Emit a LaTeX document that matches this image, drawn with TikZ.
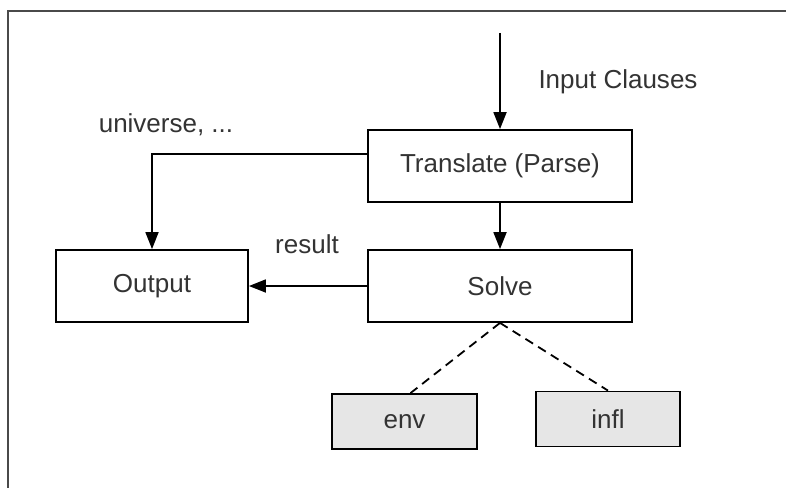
\documentclass[tikz,border=0pt]{standalone}
\usepackage{fontspec}
\setmainfont{Liberation Sans}
\usetikzlibrary{arrows.meta}
\definecolor{txt}{HTML}{333333}
\definecolor{boxfill}{HTML}{E6E6E6}
\definecolor{framec}{HTML}{4A4A4A}
\tikzset{
  blk/.style={draw=black, line width=1.8pt, fill=white, inner sep=0pt, text=txt,
     font=\fontsize{26}{30}\selectfont},
  grayblk/.style={blk, fill=boxfill},
  lbl/.style={text=txt, inner sep=0pt, font=\fontsize{26}{30}\selectfont},
  arr/.style={line width=1.8pt, -{Triangle[length=17pt,width=13pt]}},
  dsh/.style={line width=1.8pt, dash pattern=on 9pt off 6pt}
}
\begin{document}
\begin{tikzpicture}[x=1pt,y=-1pt]
\useasboundingbox (0,0) rectangle (786,487);
\fill[white] (0,0) rectangle (786,487);
% frame
\draw[framec, line width=2.5pt] (8,490) -- (8,11) -- (790,11);
% nodes
\node[blk, minimum width=264pt, minimum height=72pt] (tr) at (500,166) {Translate (Parse)};
\node[blk, minimum width=264pt, minimum height=72pt] (so) at (500,286) {Solve};
\node[blk, minimum width=192pt, minimum height=72pt] (out) at (152,286) {Output};
\node[grayblk, minimum width=145pt, minimum height=55pt] (env) at (404.5,421.5) {env};
\node[grayblk, minimum width=144pt, minimum height=55pt] (infl) at (608,419) {infl};
\coordinate (in) at (500,33);
% labels
\node[lbl] (linput) at (618,82) {Input Clauses};
\node[lbl] (luniv) at (166,125) {universe, ...};
\node[lbl] (lres) at (307,244) {result};
% connectors
\draw[arr] (in) -- (tr.north);
\draw[arr] (tr.south) -- (so.north);
\draw[arr] (so.west) -- (out.east);
\draw[arr] ([yshift=12pt]tr.west) -| (out.north);
\draw[dsh] (so.south) -- ([xshift=6pt]env.north);
\draw[dsh] (so.south) -- (infl.north);
\end{tikzpicture}
\end{document}
